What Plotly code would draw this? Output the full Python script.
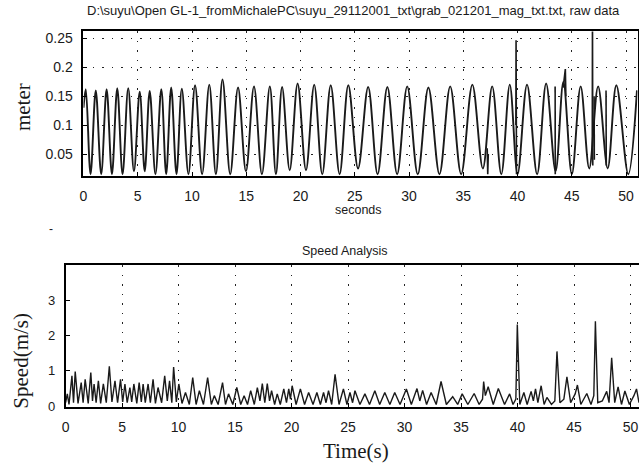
import plotly.graph_objects as go

# ---------------- data: top panel (raw magnitude, metres) ----------------
wave_t = [0.0, 0.21, 0.65, 1.13, 1.63, 2.13, 2.62, 3.11, 3.6, 4.12, 4.65, 5.18, 5.64, 6.10, 6.63,
          7.17, 7.62, 8.08, 8.57, 9.06, 9.67, 10.28, 10.93, 11.59, 12.2, 12.81, 13.52, 14.24,
          14.97, 15.71, 16.44, 17.17, 17.73, 18.30, 19.0, 19.73, 20.5, 21.26, 22.0, 22.78,
          23.6, 24.40, 25.3, 26.23, 27.1, 28.0, 28.9, 29.83, 30.8, 31.78, 32.8, 33.79, 34.8,
          35.83, 36.8, 37.66, 38.5, 39.28, 40.0, 40.87, 41.8, 42.63, 43.5, 44.22, 45.0, 45.81,
          46.6, 47.42, 48.3, 49.10, 50.2, 51.0]
wave_m = [0.13, 0.162, 0.015, 0.160, 0.015, 0.162, 0.015, 0.164, 0.015, 0.164, 0.020, 0.158, 0.020,
          0.159, 0.015, 0.162, 0.015, 0.165, 0.015, 0.163, 0.015, 0.169, 0.015, 0.170, 0.015,
          0.179, 0.015, 0.165, 0.020, 0.167, 0.015, 0.167, 0.015, 0.166, 0.022, 0.172, 0.022,
          0.170, 0.015, 0.169, 0.015, 0.169, 0.025, 0.166, 0.015, 0.166, 0.015, 0.167, 0.015,
          0.165, 0.015, 0.167, 0.015, 0.170, 0.025, 0.167, 0.015, 0.170, 0.015, 0.170, 0.015,
          0.172, 0.020, 0.175, 0.015, 0.167, 0.025, 0.167, 0.025, 0.169, 0.015, 0.160]

# glitches in the raw record (separate segments, None = break)
glitch_t = [39.84, 39.86, 39.90, None, 46.88, 46.90, 46.93, None, 44.20, 44.40, 44.45, None,
            43.46, 43.47, None, 48.15, 48.17, None, 37.20, 37.25, 37.30, None, 47.05, 47.07]
glitch_m = [0.100, 0.247, 0.015, None, 0.050, 0.300, 0.030, None, 0.165, 0.197, 0.150, None,
            0.167, 0.015, None, 0.160, 0.030, None, 0.060, 0.015, 0.050, None, 0.150, 0.040]

# ---------------- data: bottom panel (speed, m/s) ----------------
speed_t = [0.0, 0.15, 0.3, 0.45, 0.56, 0.7, 0.85, 1.1, 1.38, 1.55, 1.73, 2.0, 2.23, 2.38, 2.52,
           2.7, 2.9, 3.1, 3.34, 3.6, 3.87, 4.1, 4.37, 4.6, 4.86, 5.05, 5.25, 5.45, 5.69, 5.85,
           6.04, 6.3, 6.51, 6.7, 6.86, 7.05, 7.3, 7.5, 7.74, 7.95, 8.18, 8.5, 8.77, 9.0, 9.2,
           9.4, 9.56, 9.8, 10.02, 10.3, 10.61, 10.95, 11.25, 11.55, 11.84, 12.2, 12.57, 12.9,
           13.16, 13.5, 13.89, 14.15, 14.42, 14.8, 15.15, 15.5, 15.8, 16.1, 16.38, 16.7, 16.97,
           17.2, 17.41, 17.63, 17.85, 18.05, 18.23, 18.5, 18.73, 19.0, 19.31, 19.55, 19.75,
           19.9, 20.05, 20.4, 20.78, 21.15, 21.51, 21.9, 22.24, 22.55, 22.83, 23.05, 23.27,
           23.55, 23.85, 24.2, 24.59, 24.9, 25.17, 25.4, 25.61, 26.05, 26.49, 26.9, 27.37,
           27.8, 28.25, 28.7, 29.13, 29.6, 30.16, 30.6, 31.1, 31.35, 31.6, 31.95, 32.35,
           32.8, 33.23, 33.7, 34.26, 34.7, 35.1, 35.6, 36.16, 36.6, 36.9, 37.0, 37.15, 37.4,
           37.85, 38.3, 38.85, 39.3, 39.6, 39.85, 39.98, 40.2, 40.56, 40.85, 41.2, 41.4,
           41.59, 41.8, 42.09, 42.35, 42.6, 43.0, 43.3, 43.49, 43.75, 44.1, 44.37, 44.7,
           45.1, 45.3, 45.6, 46.13, 46.5, 46.75, 46.89, 47.1, 47.5, 47.89, 48.1, 48.33,
           48.6, 48.9, 49.2, 49.5, 49.9, 50.3, 50.53, 50.75]
speed_v = [0.10, 0.35, 0.05, 0.55, 0.86, 0.10, 0.98, 0.08, 0.67, 0.10, 0.76, 0.08, 0.95, 0.15,
           0.63, 0.10, 0.72, 0.08, 0.63, 0.10, 1.13, 0.12, 0.72, 0.10, 0.76, 0.12, 0.63, 0.10,
           0.53, 0.12, 0.63, 0.08, 0.67, 0.12, 0.63, 0.10, 0.63, 0.10, 0.76, 0.08, 0.53, 0.10,
           0.86, 0.15, 0.72, 0.10, 1.11, 0.12, 0.63, 0.08, 0.39, 0.05, 0.81, 0.05, 0.44, 0.05,
           0.81, 0.05, 0.30, 0.05, 0.67, 0.05, 0.35, 0.05, 0.53, 0.05, 0.30, 0.05, 0.44, 0.05,
           0.53, 0.15, 0.64, 0.10, 0.64, 0.15, 0.44, 0.05, 0.35, 0.05, 0.49, 0.10, 0.49, 0.20,
           0.58, 0.05, 0.49, 0.05, 0.39, 0.05, 0.39, 0.05, 0.39, 0.10, 0.44, 0.05, 0.90, 0.05,
           0.49, 0.05, 0.39, 0.10, 0.44, 0.05, 0.35, 0.05, 0.44, 0.05, 0.39, 0.05, 0.39, 0.05,
           0.49, 0.05, 0.50, 0.15, 0.45, 0.05, 0.39, 0.05, 0.70, 0.05, 0.27, 0.05, 0.35, 0.05,
           0.36, 0.05, 0.20, 0.70, 0.30, 0.55, 0.05, 0.50, 0.05, 0.35, 0.05, 0.20, 2.31, 0.05,
           0.39, 0.05, 0.42, 0.15, 0.49, 0.10, 0.58, 0.05, 0.25, 0.05, 0.15, 1.55, 0.10, 0.20,
           0.83, 0.10, 0.35, 0.60, 0.05, 0.36, 0.05, 0.30, 2.40, 0.10, 0.15, 0.42, 0.10, 1.37,
           0.10, 0.55, 0.05, 0.43, 0.05, 0.30, 0.49, 0.10]

x_ticks = [0, 5, 10, 15, 20, 25, 30, 35, 40, 45, 50]
top_y_ticks = [0.05, 0.1, 0.15, 0.2, 0.25]
top_y_labels = ["0.05", "0.1", "0.15", "0.2", "0.25"]
bot_y_ticks = [0, 1, 2, 3]

title_top = "D:\\suyu\\Open GL-1_fromMichalePC\\suyu_29112001_txt\\grab_021201_mag_txt.txt, raw data"

W, H = 639, 470
SANS = "Liberation Sans, Arial, sans-serif"
SERIF = "Liberation Serif, Times New Roman, serif"
INK = "#1a1a1a"

fig = go.Figure()
fig.add_trace(go.Scatter(x=wave_t, y=wave_m, mode="lines", xaxis="x", yaxis="y",
                         line=dict(color=INK, width=1.9, shape="spline", smoothing=1.0)))
fig.add_trace(go.Scatter(x=glitch_t, y=glitch_m, mode="lines", xaxis="x", yaxis="y",
                         connectgaps=False, line=dict(color=INK, width=1.6)))
fig.add_trace(go.Scatter(x=speed_t, y=speed_v, mode="lines", xaxis="x2", yaxis="y2",
                         line=dict(color=INK, width=1.4)))

def px_x(p):
    return p / W

def px_y(p):
    return 1 - p / H

axis_common = dict(showline=True, linecolor="black", linewidth=1.8, ticks="inside", ticklen=4,
                   tickcolor="black", zeroline=False, gridcolor="#222", gridwidth=1,
                   griddash="1.5px,8px", tickfont=dict(family=SANS, size=14, color=INK),
                   ticklabelstandoff=6)

fig.update_layout(
    width=W, height=H, margin=dict(l=0, r=0, t=0, b=0),
    paper_bgcolor="white", plot_bgcolor="white", showlegend=False,
    xaxis=dict(domain=[px_x(80), px_x(637.5)], range=[0, 51.05], tickvals=x_ticks,
               showgrid=True, mirror=True, anchor="y", **axis_common),
    yaxis=dict(domain=[px_y(178), px_y(31)], range=[0.012, 0.262], tickvals=top_y_ticks,
               ticktext=top_y_labels, showgrid=True, mirror=True, anchor="x", **axis_common),
    xaxis2=dict(domain=[px_x(62), 1.0], range=[0, 50.75], tickvals=x_ticks,
                showgrid=True, mirror=True, anchor="y2", **axis_common),
    yaxis2=dict(domain=[px_y(413), px_y(269)], range=[-0.02, 3.98], tickvals=bot_y_ticks,
                showgrid=False, mirror=False, anchor="x2", **axis_common),
)
fig.update_layout(yaxis2_tickfont_size=13)

annots = [
    dict(text=title_top, x=px_x(352), y=px_y(10), font=dict(family=SANS, size=13, color=INK)),
    dict(text="seconds", x=px_x(357), y=px_y(213), font=dict(family=SANS, size=12.5, color=INK)),
    dict(text="meter", x=px_x(19), y=px_y(108), textangle=-90,
         font=dict(family=SERIF, size=21, color=INK)),
    dict(text="Speed Analysis", x=px_x(343), y=px_y(254), font=dict(family=SANS, size=12.5, color=INK)),
    dict(text="Time(s)", x=px_x(354), y=px_y(458), font=dict(family=SERIF, size=21, color=INK)),
    dict(text="Speed(m/s)", x=px_x(17), y=px_y(366), textangle=-90,
         font=dict(family=SERIF, size=21, color=INK)),
    dict(text="-", x=px_x(47), y=px_y(232), font=dict(family=SANS, size=12, color=INK)),
]
for a in annots:
    fig.add_annotation(xref="paper", yref="paper", xanchor="center", yanchor="middle",
                       showarrow=False, **a)

fig.write_html("out.html")
